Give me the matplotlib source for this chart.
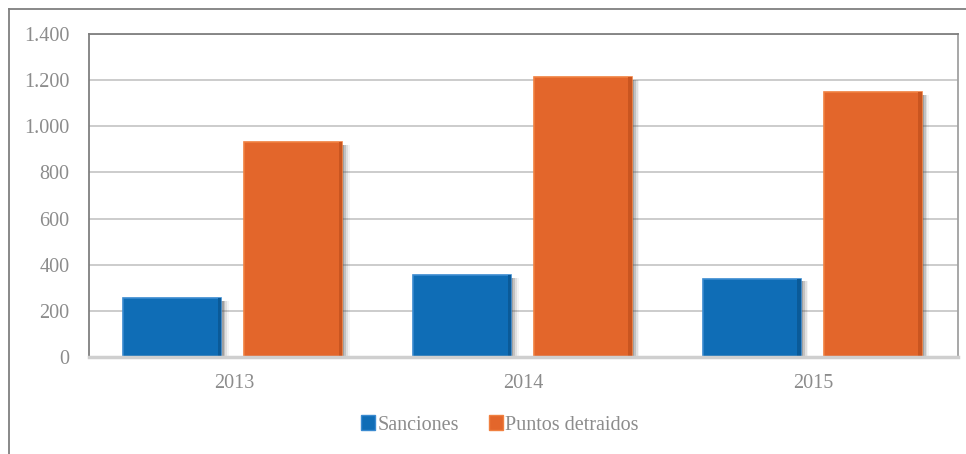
import matplotlib.pyplot as plt
import matplotlib.patches as mpatches
from matplotlib.lines import Line2D
import numpy as np

years = ["2013", "2014", "2015"]
sanciones = [255, 355, 340]
puntos = [932, 1212, 1148]

BLUE = "#0F6DB6"
ORANGE = "#E3662B"
GRID = "#C4C4C4"
FRAME = "#7F7F7F"
TEXT = "#8C8C8C"

plt.rcParams["font.family"] = ["Liberation Serif", "DejaVu Serif"]

fig = plt.figure(figsize=(9.66, 4.54), dpi=100)
W, H = 966, 454
ax = fig.add_axes([89 / W, 1 - 357 / H, (958 - 89) / W, (357 - 34) / H])

x = np.arange(len(years))
width = 0.338
off_b, off_o = -0.212, 0.205

# soft drop shadow behind each bar
for dx, a in [(0.008, 0.30), (0.014, 0.20), (0.020, 0.12), (0.026, 0.06)]:
    ax.bar(x + off_b + dx, np.array(sanciones) - 12, width, bottom=0,
           color="#505050", alpha=a, zorder=2, linewidth=0)
    ax.bar(x + off_o + dx, np.array(puntos) - 12, width, bottom=0,
           color="#505050", alpha=a, zorder=2, linewidth=0)

ax.bar(x + off_b, sanciones, width, color=BLUE, edgecolor="#3A8AD0",
       linewidth=1.2, zorder=3)
ax.bar(x + off_o, puntos, width, color=ORANGE, edgecolor="#F08040",
       linewidth=1.2, zorder=3)

# darker bevel on the right edge of each bar
ax.bar(x + off_b + width / 2 - 0.006, sanciones, 0.012, color="#0A5A98",
       linewidth=0, zorder=3.5)
ax.bar(x + off_o + width / 2 - 0.006, puntos, 0.012, color="#C95520",
       linewidth=0, zorder=3.5)

ax.set_ylim(0, 1400)
ax.set_xlim(-0.5, 2.5)
ax.set_yticks(range(0, 1401, 200))
ax.set_yticklabels([f"{v:,}".replace(",", ".") for v in range(0, 1401, 200)])
ax.set_xticks(x)
ax.set_xticklabels(years)
ax.tick_params(axis="both", length=0, labelsize=14.5, labelcolor=TEXT)
ax.tick_params(axis="y", pad=14)
ax.tick_params(axis="x", pad=12)

ax.yaxis.grid(True, color=GRID, linewidth=1.2, zorder=0)
ax.set_axisbelow(True)

for side in ("left", "top", "right"):
    ax.spines[side].set_color(FRAME)
    ax.spines[side].set_linewidth(1.3)
ax.spines["right"].set_color("#A0A0A0")
ax.spines["bottom"].set_color("#CFCFCF")
ax.spines["bottom"].set_linewidth(2.5)
ax.spines["bottom"].set_zorder(4)

handles = [mpatches.Patch(facecolor=BLUE, edgecolor="#3A8AD0", label="Sanciones"),
           mpatches.Patch(facecolor=ORANGE, edgecolor="#F08040", label="Puntos detraidos")]
leg = fig.legend(handles=handles, loc="center", bbox_to_anchor=(500 / W, 1 - 425 / H),
                 ncol=2, frameon=False, fontsize=14.5, handlelength=0.7, handleheight=0.7,
                 handletextpad=0.1, columnspacing=1.5)
for t in leg.get_texts():
    t.set_color(TEXT)

# outer chart frame
fig.add_artist(Line2D([9 / W, 9 / W], [0, 1 - 9 / H], color=FRAME, linewidth=1.3))
fig.add_artist(Line2D([9 / W, 1], [1 - 9 / H, 1 - 9 / H], color=FRAME, linewidth=1.3))

fig.savefig("out.png", dpi=100)
